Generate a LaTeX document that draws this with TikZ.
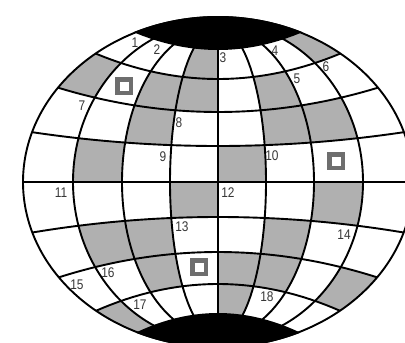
\documentclass[tikz,border=0pt]{standalone}
\usepackage{fontspec}
\usepackage{tikz}
\newfontfamily\numfont[FakeStretch=0.85]{Liberation Sans}
\definecolor{cellGray}{RGB}{176,176,176}
\definecolor{markGray}{RGB}{110,110,110}
\definecolor{labelGray}{RGB}{55,55,55}
% meridians: half width and half height, parallels: centre height and bend
\def\merS{{-195,-145,-96,-48,0,48,96,145,195}}
\def\merB{{165,160,155,155,155,155,155,160,165}}
\def\parC{{-60,79,112,146,182,217,252,284,420}}
\def\parK{{0,-17,-9.5,-4,0,4.5,10,18,0}}

\begin{document}
\begin{tikzpicture}[x=1pt,y=-1pt,
    grid/.style={line width=1.9pt,black},
    squaremark/.style={draw=markGray,line width=4.5pt,fill=white,minimum size=13.5pt,inner sep=0pt},
    numlabel/.style={font=\numfont\fontsize{14}{14}\selectfont,text=labelGray,inner sep=0pt}]
    \useasboundingbox (0,0) rectangle (405,343);

    % Gray cells (column/row)
    \foreach \c/\r in {4/1,8/1,1/2,3/2,4/2,6/2,3/3,6/3,7/3,2/4,5/4,4/5,7/5,2/6,3/6,6/6,3/7,5/7,6/7,8/7,1/8,5/8} {
        \pgfmathtruncatemacro{\ml}{\c-1}
        \pgfmathtruncatemacro{\pt}{\r-1}
        \pgfmathsetmacro{\sL}{\merS[\ml]}
        \pgfmathsetmacro{\sR}{\merS[\c]}
        \pgfmathsetmacro{\bL}{\merB[\ml]}
        \pgfmathsetmacro{\bR}{\merB[\c]}
        \pgfmathsetmacro{\cT}{\parC[\pt]}
        \pgfmathsetmacro{\kT}{\parK[\pt]}
        \pgfmathsetmacro{\cB}{\parC[\r]}
        \pgfmathsetmacro{\kB}{\parK[\r]}
        \begin{scope}
            \clip plot[domain=-90:90,samples=40] ({218+(\sL)*cos(\x)},{182+(\bL)*sin(\x)})
                -- plot[domain=90:-90,samples=40] ({218+(\sR)*cos(\x)},{182+(\bR)*sin(\x)}) -- cycle;
            \fill[cellGray] plot[domain=0:436,samples=50] (\x,{\cT+(\kT)*((\x-218)/100)^2})
                -- plot[domain=436:0,samples=50] (\x,{\cB+(\kB)*((\x-218)/100)^2}) -- cycle;
        \end{scope}
    }

    % Meridians
    \draw[grid] (218,182) ellipse [x radius=195, y radius=165];
    \foreach \a/\b in {145/160,96/155,48/155}
        \draw[grid] (218,182) ellipse [x radius=\a, y radius=\b];
    \draw[grid] (218,20) -- (218,345);

    % Parallels
    \begin{scope}
        \clip (218,182) ellipse [x radius=195, y radius=165];
        \foreach \h/\k in {79/-17,112/-9.5,146/-4,217/4.5,252/10,284/18}
            \draw[grid] plot[domain=0:436,samples=60] (\x,{\h+(\k)*((\x-218)/100)^2});
        \draw[grid] (0,182) -- (436,182);
    \end{scope}

    % Polar caps
    \begin{scope}
        \clip (218,182) ellipse [x radius=196, y radius=166];
        \fill[black] plot[domain=90:346,samples=40] (\x,{50-25*((\x-218)/100)^2}) -- (346,0) -- (90,0) -- cycle;
        \fill[black] plot[domain=90:346,samples=40] (\x,{313+29*((\x-218)/100)^2}) -- (346,360) -- (90,360) -- cycle;
    \end{scope}

    % Markers
    \foreach \i/\x/\y in {1/124/86,2/336/161,3/199/267}
        \node[squaremark] (sq\i) at (\x,\y) {};

    % Labels
    \foreach \n/\x/\y in {1/135/43,2/157/50,3/223/58,4/275/51,5/297/79,6/326/67,7/82/106,8/179/123,9/163/157,
        10/272/156,11/61/193,12/228/193,13/182/227,14/344/235,15/77/285,16/108/273,17/140/305,18/267/297}
        \node[numlabel] (n\n) at (\x,\y) {\n};
\end{tikzpicture}
\end{document}
